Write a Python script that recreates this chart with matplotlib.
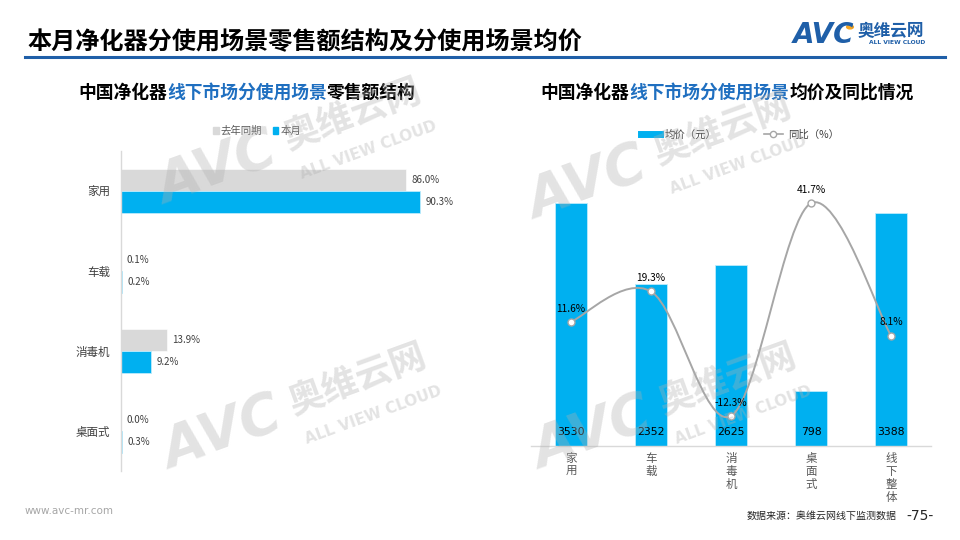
import matplotlib
matplotlib.use("Agg")
import matplotlib.pyplot as plt
import numpy as np
from matplotlib.path import Path
from matplotlib.patches import PathPatch, Patch
from matplotlib.lines import Line2D

plt.rcParams['font.family'] = ['Noto Sans CJK SC', 'DejaVu Sans']

# ---------------- data ----------------
left_categories = ['家用', '车载', '消毒机', '桌面式']
share_last_year = [86.0, 0.1, 13.9, 0.0]
share_this_month = [90.3, 0.2, 9.2, 0.3]

right_categories = ['家用', '车载', '消毒机', '桌面式', '线下整体']
avg_price = [3530, 2352, 2625, 798, 3388]
yoy_pct = [11.6, 19.3, -12.3, 41.7, 8.1]

BLUE = '#00B0F0'
GRAY = '#D9D9D9'
LINE_GRAY = '#A6A6A6'
TITLE_BLUE = '#1F6FC0'

W, H = 960, 540
fig = plt.figure(figsize=(9.6, 5.4), dpi=100)


def fx(x):
    return x / W


def fy(y):
    return 1 - y / H


def axes_px(l, t, r, b):
    return fig.add_axes([fx(l), fy(b), (r - l) / W, (b - t) / H])


# ---------------- header ----------------
fig.text(fx(27), fy(42), '本月净化器分使用场景零售额结构及分使用场景均价',
         fontsize=17.4, fontweight='bold', color='black', va='center', ha='left')
fig.add_artist(Line2D([fx(25), fx(945)], [fy(57), fy(57)], color='#1F5FA8', lw=2.2))

# logo
fig.text(fx(793), fy(35), 'AVC', fontsize=20, fontweight='bold', color='#1F5FA8',
         va='center', ha='left', family='DejaVu Sans', style='italic')
fig.add_artist(plt.Circle((fx(850), fy(27)), 0.0035, transform=fig.transFigure,
                          color='#F5A623'))
fig.text(fx(858), fy(31), '奥维云网', fontsize=12, fontweight='bold', color='#1F5FA8',
         va='center', ha='left')
fig.text(fx(869), fy(43), 'ALL VIEW CLOUD', fontsize=4.3, fontweight='bold',
         color='#1F5FA8', va='center', ha='left', family='DejaVu Sans')


def multi_color_title(xc, y, parts, size=12.8):
    renderer = fig.canvas.get_renderer()
    texts = []
    widths = []
    for s, c in parts:
        t = fig.text(0, fy(y), s, fontsize=size, fontweight='bold', color=c,
                     va='center', ha='left')
        bb = t.get_window_extent(renderer=renderer)
        texts.append(t)
        widths.append(bb.width)
    total = sum(widths)
    x = xc - total / 2
    for t, w in zip(texts, widths):
        t.set_x(fx(x))
        x += w


multi_color_title(247, 93, [('中国净化器', 'black'), ('线下市场分使用场景', TITLE_BLUE),
                            ('零售额结构', 'black')])
multi_color_title(727, 93, [('中国净化器', 'black'), ('线下市场分使用场景', TITLE_BLUE),
                            ('均价及同比情况', 'black')])

# ---------------- left chart ----------------
axL = axes_px(121, 151, 460, 471)
n = len(left_categories)
pos = np.arange(n)
bh = 0.275
axL.barh(pos - 0.14, share_last_year, height=bh, color=GRAY, edgecolor='white', lw=0.4)
axL.barh(pos + 0.14, share_this_month, height=bh, color=BLUE, edgecolor='#BDEBFB', lw=0.6)
axL.set_xlim(0, 102.4)
axL.set_ylim(n - 0.5, -0.5)
axL.set_yticks(pos)
axL.set_yticklabels(left_categories, fontsize=8.3, color='#404040')
axL.tick_params(axis='y', length=0, pad=8)
axL.set_xticks([])
for s in ['top', 'right', 'bottom']:
    axL.spines[s].set_visible(False)
axL.spines['left'].set_color('#D9D9D9')
axL.spines['left'].set_linewidth(1.0)
axL.patch.set_alpha(0)

for i, (a, b) in enumerate(zip(share_last_year, share_this_month)):
    axL.annotate(f'{a:.1f}%', xy=(a, i - 0.14), xytext=(4, 0), textcoords='offset points',
                 ha='left', va='center', fontsize=7, color='#404040')
    axL.annotate(f'{b:.1f}%', xy=(b, i + 0.14), xytext=(4, 0), textcoords='offset points',
                 ha='left', va='center', fontsize=7, color='#404040')

fig.legend(handles=[Patch(color=GRAY, label='去年同期'), Patch(color=BLUE, label='本月')],
           loc='center', bbox_to_anchor=(fx(257), fy(131)), ncol=2, frameon=False,
           fontsize=7.5, handlelength=0.55, handleheight=0.55, handletextpad=0.2,
           columnspacing=1.0, labelcolor='#595959')

# ---------------- right chart ----------------
axR = axes_px(531, 180, 931, 446)
m = len(right_categories)
xr = np.arange(m)
axR.bar(xr, avg_price, width=0.4, color=BLUE, edgecolor='#BDEBFB', lw=0.6, zorder=2)
axR.set_xlim(-0.5, m - 0.5)
axR.set_ylim(0, 3864)
axR.set_yticks([])
axR.set_xticks(xr)
axR.set_xticklabels(['\n'.join(c) for c in right_categories], fontsize=8.3,
                    color='#595959', linespacing=1.0, va='top')
axR.tick_params(axis='x', length=0, pad=4)
for s in ['top', 'right', 'left']:
    axR.spines[s].set_visible(False)
axR.spines['bottom'].set_color('#D9D9D9')
axR.spines['bottom'].set_linewidth(1.0)
axR.patch.set_alpha(0)
for i, v in enumerate(avg_price):
    axR.annotate(f'{v}', xy=(i, 0), xytext=(0, 10), textcoords='offset points',
                 ha='center', va='center', fontsize=7.8, color='black', family='DejaVu Sans',
                 zorder=5)

ax2 = axR.twinx()
ax2.set_ylim(-19.92, 47.59)
ax2.set_yticks([])
for s in ax2.spines.values():
    s.set_visible(False)

# smoothed line path (Catmull-Rom style bezier through the data points)
pts = np.column_stack([xr, yoy_pct]).astype(float)
verts = [tuple(pts[0])]
codes = [Path.MOVETO]
for i in range(len(pts) - 1):
    p0 = pts[max(i - 1, 0)]
    p1 = pts[i]
    p2 = pts[i + 1]
    p3 = pts[min(i + 2, len(pts) - 1)]
    c1 = p1 + (p2 - p0) / 6
    c2 = p2 - (p3 - p1) / 6
    verts += [tuple(c1), tuple(c2), tuple(p2)]
    codes += [Path.CURVE4] * 3
ax2.add_patch(PathPatch(Path(verts, codes), facecolor='none', edgecolor=LINE_GRAY,
                        lw=1.4, zorder=3))
ax2.plot(xr, yoy_pct, linestyle='none', marker='o', markersize=5, markerfacecolor='white',
         markeredgecolor=LINE_GRAY, markeredgewidth=1.0, zorder=4)
for i, v in enumerate(yoy_pct):
    ax2.annotate(f'{v:.1f}%', xy=(i, v), xytext=(0, 9.5), textcoords='offset points',
                 ha='center', va='center', fontsize=7.3, color='black', zorder=5)

fig.legend(handles=[Line2D([], [], color=BLUE, lw=5, label='均价（元）'),
                    Line2D([], [], color=LINE_GRAY, lw=1.2, marker='o', markersize=4.5,
                           markerfacecolor='white', label='同比（%）')],
           loc='center', bbox_to_anchor=(fx(740), fy(135)), ncol=2, frameon=False,
           fontsize=7.5, handlelength=1.8, handletextpad=0.5, columnspacing=4.5,
           labelcolor='#404040')

# ---------------- watermarks ----------------
def watermark(x, y, scale=1.0):
    kw = dict(color='#B0B0B0', alpha=0.35, rotation=20, rotation_mode='anchor',
              fontweight='bold', zorder=10)
    fig.text(fx(x), fy(y), 'AVC', fontsize=40 * scale, family='DejaVu Sans',
             style='italic', ha='left', va='center', **kw)
    fig.text(fx(x + 125 * scale), fy(y - 50 * scale), '奥维云网', fontsize=26 * scale,
             ha='left', va='center', **kw)
    fig.text(fx(x + 140 * scale), fy(y - 15 * scale), 'ALL VIEW CLOUD', fontsize=11 * scale,
             family='DejaVu Sans', ha='left', va='center', **kw)


watermark(160, 190, 1.0)
watermark(165, 455, 1.0)
watermark(530, 205, 1.0)
watermark(535, 455, 1.0)

# ---------------- footer ----------------
fig.text(fx(25), fy(511), 'www.avc-mr.com', fontsize=7.5, color='#A6A6A6', ha='left',
         va='center', family='DejaVu Sans')
fig.text(fx(897), fy(516), '数据来源：奥维云网线下监测数据', fontsize=7.2, color='#262626',
         ha='right', va='center')
fig.text(fx(920), fy(516), '-75-', fontsize=10, color='#262626', ha='center', va='center',
         family='DejaVu Sans')

fig.savefig('out.png', dpi=100)
